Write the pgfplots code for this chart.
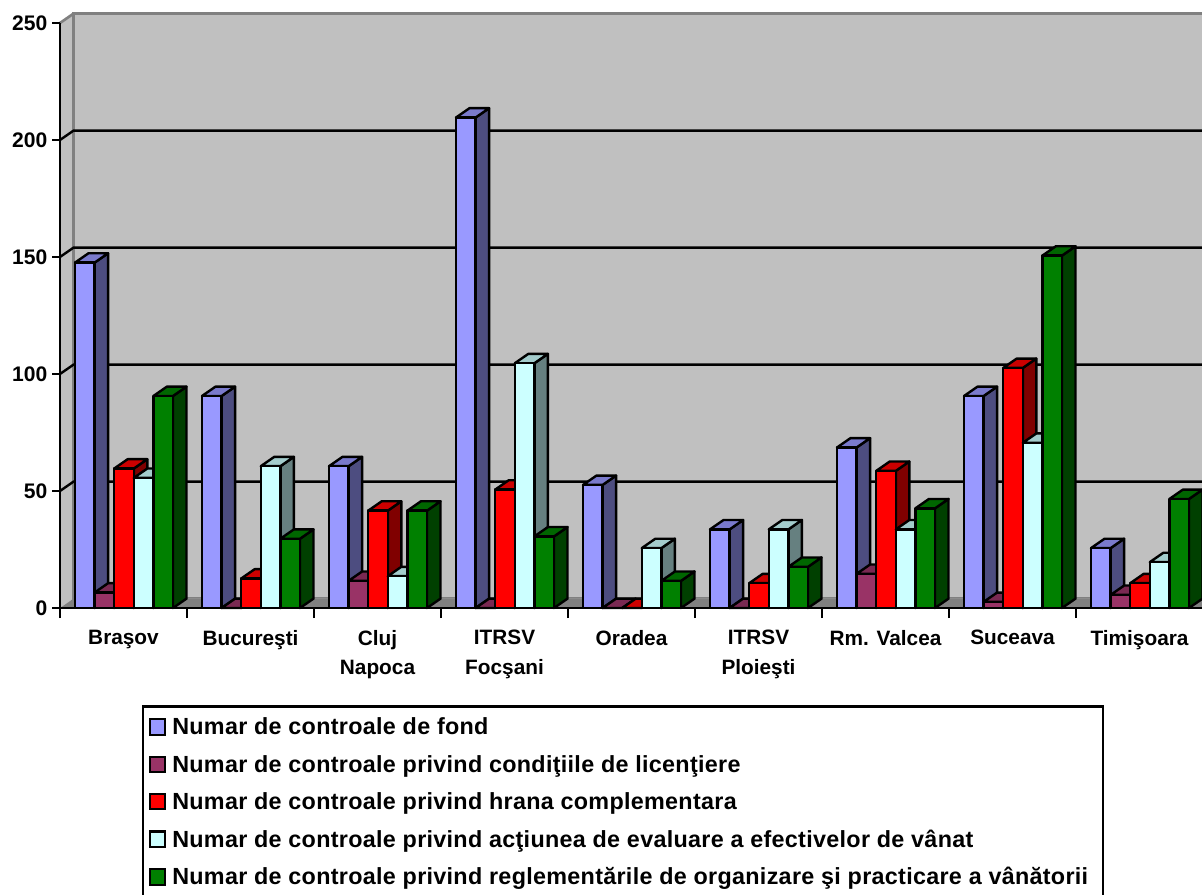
\documentclass[border=0pt]{standalone}
\usepackage{fontspec}
\setmainfont{Liberation Sans}
\usepackage{pgfplots}
\pgfplotsset{compat=1.18}
% 1 reference pixel = 0.75pt
\definecolor{aF}{HTML}{9999FF}\definecolor{aS}{HTML}{4D4D80}\definecolor{aT}{HTML}{7A7ACC}
\definecolor{bF}{HTML}{993366}\definecolor{bS}{HTML}{4D1A33}\definecolor{bT}{HTML}{7A2952}
\definecolor{cF}{HTML}{FF0000}\definecolor{cS}{HTML}{800000}\definecolor{cT}{HTML}{CC0000}
\definecolor{dF}{HTML}{CCFFFF}\definecolor{dS}{HTML}{668080}\definecolor{dT}{HTML}{A3CCCC}
\definecolor{eF}{HTML}{008000}\definecolor{eS}{HTML}{004000}\definecolor{eT}{HTML}{006600}
\definecolor{wall}{HTML}{C0C0C0}\definecolor{floorc}{HTML}{808080}
\def\dxu{0.1063}% depth in x units (13.5px)
\def\dyu{4.0}% depth in y units
\newcommand\onebar[4]{%
  \pgfmathsetmacro\xa{#1+(15.0+19.6*#2)/127}%
  \pgfmathsetmacro\xb{\xa+19.6/127}%
  \pgfmathsetmacro\xc{\xb+\dxu}%
  \pgfmathsetmacro\xd{\xa+\dxu}%
  \pgfmathsetmacro\yt{#3+\dyu}%
  \edef\tmp{\noexpand\addplot[forget plot,fill=#4S,draw=black,line width=1.8pt,line join=round] coordinates {(\xb,0)(\xc,\dyu)(\xc,\yt)(\xb,#3)} -- cycle;
  \noexpand\addplot[forget plot,fill=#4T,draw=black,line width=1.8pt,line join=round] coordinates {(\xa,#3)(\xb,#3)(\xc,\yt)(\xd,\yt)} -- cycle;
  \noexpand\addplot[forget plot,fill=#4F,draw=black,line width=1.8pt,line join=round] coordinates {(\xa,0)(\xb,0)(\xb,#3)(\xa,#3)} -- cycle;}%
  \tmp}
\newcommand\group[6]{%
  \onebar{#1}{0}{#2}{a}\onebar{#1}{1}{#3}{b}\onebar{#1}{2}{#4}{c}\onebar{#1}{3}{#5}{d}\onebar{#1}{4}{#6}{e}}
\begin{document}
\begin{tikzpicture}
\useasboundingbox (0,0) rectangle (901.5pt,671.25pt);
\clip (0,0) rectangle (901.5pt,671.25pt);
\begin{axis}[
  at={(45pt,215.25pt)},anchor=south west,
  scale only axis,width=856.5pt,height=438.75pt,
  xmin=0,xmax=8.992,ymin=0,ymax=250,
  clip=false,axis on top,
  axis x line*=bottom,axis y line*=left,
  axis line style={line width=1.8pt,-},
  tick style={line width=1.8pt,black},
  tick align=outside,
  major tick length=6pt,minor tick length=7.5pt,
  ytick={0,50,100,150,200,250},
  xtick={0.5,1.5,2.5,3.5,4.5,5.5,6.5,7.5,8.5},
  x tick style={draw=none},
  minor xtick={0,1,2,3,4,5,6,7,8},
  minor x tick style={draw=black,line width=1.8pt},
  xticklabels={Braşov,Bucureşti,{Cluj\\Napoca},{ITRSV\\Focşani},Oradea,{ITRSV\\Ploieşti},{Rm. Valcea},Suceava,Timişoara},
  xticklabel style={font=\fontsize{15.6pt}{22.3pt}\selectfont\bfseries,align=center,anchor=north,yshift=-7pt},
  yticklabel style={font=\fontsize{15.8pt}{18pt}\selectfont\bfseries,/pgf/number format/assume math mode=true},
  /pgf/number format/fixed,
  legend style={at={(0.0718,-0.1665)},anchor=north west,draw=black,line width=1.8pt,
    font=\fontsize{17.5pt}{20pt}\selectfont\bfseries\addfontfeature{LetterSpace=1.3},
    row sep=9.8pt,inner xsep=4pt,inner ysep=6.4pt},
  legend cell align=left,
  legend image code/.code={\path[draw=none,fill=none] (0pt,0pt) -- (15pt,0pt);\draw[#1,line width=1.6pt] (0pt,-5.5pt) rectangle (11.5pt,6pt);},
]
% walls and floor
\addplot[forget plot,fill=wall,draw=none] coordinates {(0,0)(\dxu,\dyu)(\dxu,250+\dyu)(0,250)} -- cycle;
\addplot[forget plot,fill=wall,draw=floorc,line width=2.2pt] coordinates {(\dxu,\dyu)(9.3,\dyu)(9.3,254)(\dxu,254)} -- cycle;
\addplot[forget plot,draw=floorc,line width=2pt] coordinates {(0,250)(\dxu,254)};
\addplot[forget plot,fill=floorc,draw=none] coordinates {(0,0)(9.3,0)(9.3,\dyu)(\dxu,\dyu)} -- cycle;
\addplot[forget plot,draw=black!45,line width=1pt] coordinates {(\dxu,\dyu)(9.3,\dyu)};
% gridlines on the back wall, with the diagonal on the side wall
\addplot[forget plot,black,line width=1.8pt] coordinates {(0,50)(\dxu,54)(9.3,54)};
\addplot[forget plot,black,line width=1.8pt] coordinates {(0,100)(\dxu,104)(9.3,104)};
\addplot[forget plot,black,line width=1.8pt] coordinates {(0,150)(\dxu,154)(9.3,154)};
\addplot[forget plot,black,line width=1.8pt] coordinates {(0,200)(\dxu,204)(9.3,204)};
% bars: category, then the five series
\group{0}{147.6}{6.6}{59.6}{55.6}{90.6}
\group{1}{90.6}{0}{12.6}{60.6}{29.6}
\group{2}{60.6}{11.6}{41.6}{13.6}{41.6}
\group{3}{209.6}{0}{50.6}{104.6}{30.6}
\group{4}{52.6}{0}{0}{25.6}{11.6}
\group{5}{33.6}{0}{10.6}{33.6}{17.6}
\group{6}{68.6}{14.6}{58.6}{33.6}{42.6}
\group{7}{90.6}{2.6}{102.6}{70.6}{150.6}
\group{8}{25.6}{5.6}{10.6}{19.6}{46.6}
\addlegendimage{fill=aF,draw=black}\addlegendentry{Numar de controale de fond}
\addlegendimage{fill=bF,draw=black}\addlegendentry{Numar de controale privind condiţiile de licenţiere}
\addlegendimage{fill=cF,draw=black}\addlegendentry{Numar de controale privind hrana complementara}
\addlegendimage{fill=dF,draw=black}\addlegendentry{Numar de controale privind acţiunea de evaluare a efectivelor de vânat}
\addlegendimage{fill=eF,draw=black}\addlegendentry{Numar de controale privind reglementările de organizare şi practicare a vânătorii\hspace*{5pt}}
\end{axis}
\end{tikzpicture}
\end{document}
